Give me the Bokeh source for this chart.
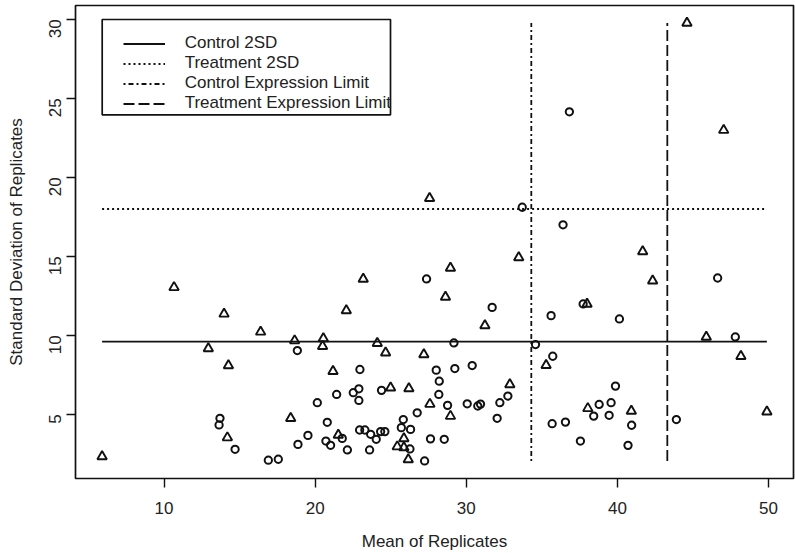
import math
from bokeh.plotting import figure
from bokeh.models import Range1d, FixedTicker, Legend, LegendItem, BoxAnnotation
from bokeh.embed import file_html
from bokeh.resources import INLINE

# ---------------- data ----------------
# Control (circles)
ctrl_mean = [36.82, 33.70, 36.40, 27.37, 31.71, 46.63, 37.73, 35.61, 40.13, 18.82,
             22.96, 22.89, 22.52, 22.89, 21.42, 24.39, 20.14, 26.75, 13.70, 13.64,
             20.80, 14.70, 19.52, 18.86, 20.71, 21.02, 21.79, 22.13, 16.90, 17.56,
             22.94, 23.29, 23.67, 24.04, 24.33, 24.61, 23.60, 25.70, 25.83, 26.31,
             26.27, 27.24, 29.18, 34.58, 47.80, 35.72, 28.01, 29.24, 30.39,
             28.21, 32.75, 28.18, 39.87, 28.76, 30.06, 30.76, 30.94, 32.22, 32.04,
             27.63, 28.54, 38.79, 39.58, 38.43, 39.45, 40.94, 35.68, 36.56, 37.55,
             40.70, 43.90]
ctrl_sd = [24.15, 18.11, 17.00, 13.57, 11.77, 13.63, 11.99, 11.25, 11.04, 9.04,
           7.84, 6.62, 6.37, 5.88, 6.26, 6.52, 5.74, 5.10, 4.75, 4.33,
           4.50, 2.79, 3.67, 3.10, 3.31, 3.04, 3.48, 2.75, 2.10, 2.16,
           4.01, 4.01, 3.74, 3.42, 3.91, 3.91, 2.75, 4.16, 4.67, 4.05,
           2.81, 2.05, 9.52, 9.42, 9.90, 8.68, 7.80, 7.90, 8.09,
           7.10, 6.16, 6.26, 6.79, 5.57, 5.67, 5.53, 5.65, 5.74, 4.75,
           3.45, 3.42, 5.63, 5.74, 4.89, 4.94, 4.31, 4.41, 4.51, 3.31,
           3.04, 4.67]

# Treatment (triangles)
trt_mean = [44.60, 47.03, 27.57, 41.67, 33.47, 28.95, 23.18, 28.62, 22.06, 31.23,
            42.33, 37.99, 10.66, 13.97, 16.39, 18.64, 20.54, 20.49, 12.93, 24.11,
            24.66, 27.19, 14.26, 21.18, 24.99, 26.20, 18.38, 14.19, 21.53, 5.90,
            25.43, 25.87, 26.16, 45.88, 48.17, 35.28, 32.88, 27.59, 28.95, 38.04,
            40.92, 49.89, 25.87]
trt_sd = [29.77, 22.99, 18.68, 15.31, 14.93, 14.26, 13.57, 12.43, 11.57, 10.62,
          13.46, 11.99, 13.04, 11.36, 10.22, 9.67, 9.80, 9.31, 9.17, 9.50,
          8.90, 8.79, 8.09, 7.73, 6.68, 6.64, 4.75, 3.53, 3.69, 2.33,
          2.96, 2.90, 2.14, 9.90, 8.68, 8.11, 6.89, 5.65, 4.89, 5.38,
          5.21, 5.17, 3.47]

control_2sd = 9.6
treatment_2sd = 18.0
control_limit = 34.3
treatment_limit = 43.3

x_ticks = [10, 20, 30, 40, 50]
y_ticks = [5, 10, 15, 20, 25, 30]

legend_labels = ["Control 2SD", "Treatment 2SD",
                 "Control Expression Limit", "Treatment Expression Limit"]

# ---------------- ranges (R style 4% extension) ----------------
all_x = ctrl_mean + trt_mean
all_y = ctrl_sd + trt_sd
xmin, xmax = min(all_x), max(all_x)
ymin, ymax = min(all_y), max(all_y)
dx = 0.04 * (xmax - xmin)
dy = 0.04 * (ymax - ymin)

FONT = "Liberation Sans"
TXT = "#222222"

p = figure(width=795, height=553,
           x_range=Range1d(xmin - dx, xmax + dx),
           y_range=Range1d(ymin - dy, ymax + dy),
           output_backend="svg", toolbar_location=None,
           min_border_left=75, min_border_right=2,
           min_border_top=5, min_border_bottom=75)
p.grid.visible = False
p.outline_line_color = "#111111"
p.outline_line_width = 1.7
p.outline_line_alpha = 1.0
p.background_fill_color = "white"
p.border_fill_color = "white"

for ax in (p.xaxis[0], p.yaxis[0]):
    ax.axis_line_color = None
    ax.major_tick_line_color = "#111111"
    ax.major_tick_line_width = 1.4
    ax.major_tick_out = 9
    ax.major_tick_in = 0
    ax.minor_tick_line_color = None
    ax.major_label_text_font = FONT
    ax.major_label_text_font_size = "17px"
    ax.major_label_text_color = TXT
    ax.axis_label_text_font = FONT
    ax.axis_label_text_font_size = "17px"
    ax.axis_label_text_font_style = "normal"
    ax.axis_label_text_color = TXT

p.xaxis.ticker = FixedTicker(ticks=x_ticks)
p.yaxis.ticker = FixedTicker(ticks=y_ticks)
p.xaxis.axis_label = "Mean of Replicates"
p.yaxis.axis_label = "Standard Deviation of Replicates"
p.xaxis.major_label_standoff = 14
p.yaxis.major_label_standoff = 11
p.yaxis.major_label_orientation = math.pi / 2
p.xaxis.axis_label_standoff = 15
p.yaxis.axis_label_standoff = 15

# ---------------- reference lines ----------------
LW = 1.8
r1 = p.line([xmin, xmax], [control_2sd, control_2sd],
            line_color="#111111", line_width=LW)
r2 = p.line([xmin, xmax], [treatment_2sd, treatment_2sd],
            line_color="#111111", line_width=LW, line_dash="2 3")
r3 = p.line([control_limit, control_limit], [ymin, ymax],
            line_color="#111111", line_width=LW, line_dash="2 3 5 3")
r4 = p.line([treatment_limit, treatment_limit], [ymin, ymax],
            line_color="#111111", line_width=LW, line_dash="11 4")

# ---------------- points ----------------
p.scatter(ctrl_mean, ctrl_sd, marker="circle", size=7.3,
          fill_color=None, line_color="#111111", line_width=2.0)
p.scatter(trt_mean, trt_sd, marker="triangle", size=9.5,
          fill_color=None, line_color="#111111", line_width=1.9)

# ---------------- legend ----------------
box = BoxAnnotation(left=26.7, right=315, top=459, bottom=363.7,
                    left_units="screen", right_units="screen",
                    top_units="screen", bottom_units="screen",
                    fill_color=None, fill_alpha=0,
                    line_color="#111111", line_width=1.7, line_alpha=1)
p.add_layout(box)

legend = Legend(items=[LegendItem(label=legend_labels[i], renderers=[r])
                       for i, r in enumerate([r1, r2, r3, r4])],
                location=(47.7, 365), padding=9, spacing=0, margin=0,
                glyph_width=42, glyph_height=19, label_height=19,
                label_standoff=20,
                label_text_font=FONT, label_text_font_size="17px",
                label_text_color=TXT,
                border_line_color=None, background_fill_alpha=0)
p.add_layout(legend)

open("out.html", "w").write(file_html(p, INLINE))
